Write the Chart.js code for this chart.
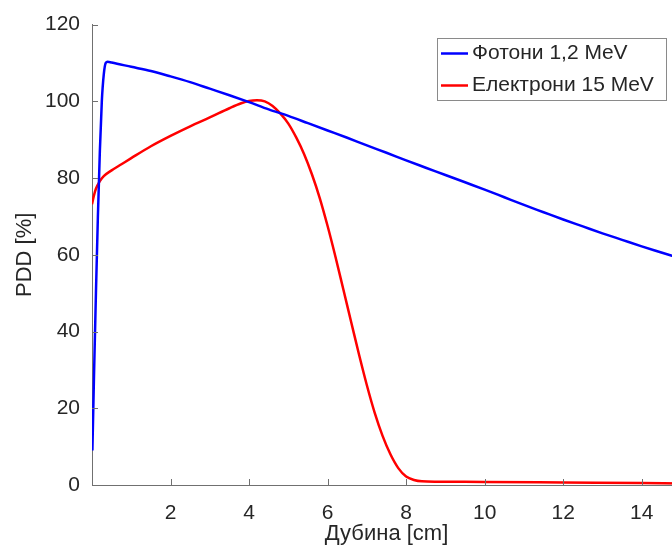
<!DOCTYPE html>
<html><head><meta charset="utf-8">
<script src="https://cdn.jsdelivr.net/npm/chart.js@4/dist/chart.umd.min.js"></script>
<style>
html,body{margin:0;padding:0;background:#fff;overflow:hidden;width:672px;height:547px}
#wrap{width:672px;height:547px;overflow:hidden;position:relative}
canvas{display:block}
</style></head>
<body><div id="wrap"><canvas id="c" width="700" height="547" style="width:700px;height:547px"></canvas></div>
<script>
const seriesLabels = ['Фотони 1,2 MeV', 'Електрони 15 MeV'];
const seriesColors = ['#0000ff', '#ff0000'];
const photonDepth = [0.01,0.05,0.1,0.15,0.2,0.25,0.3,0.35,0.4,0.5,1,1.5,2,2.5,3,3.5,4,4.5,5,5.5,6,6.5,7,7.5,8,8.5,9,9.5,10,10.5,11,11.5,12,12.5,13,13.5,14,14.5,15];
const photonDose  = [9,28,50,70,87,100,107,110,110.3,110.1,109,107.9,106.5,105,103.3,101.6,99.8,97.9,96.2,94.3,92.4,90.5,88.5,86.6,84.6,82.7,80.8,78.9,77,75,73,71.1,69.2,67.4,65.6,63.9,62.2,60.6,59];
const electronDepth = [0,0.05,0.1,0.2,0.3,0.5,0.75,1,1.5,2,2.5,3,3.5,3.8,4,4.2,4.4,4.6,4.8,5,5.2,5.4,5.6,5.8,6,6.2,6.4,6.6,6.8,7,7.2,7.4,7.6,7.8,8,8.2,8.4,8.8,10,12,14,15];
const electronDose  = [73.2,75.5,77.2,79.2,80.5,82,83.6,85.2,88.3,91,93.5,95.8,98.2,99.5,100.1,100.3,100,98.8,96.8,94.2,90.6,86.3,81,74.8,67.5,59.5,51,42.5,34,26,18.8,12.8,8,4.4,2.2,1.3,0.95,0.87,0.8,0.65,0.5,0.42];
const xTicks = [2,4,6,8,10,12,14];
const yTicks = [0,20,40,60,80,100,120];
const xTitle = 'Дубина [cm]';
const yTitle = 'PDD [%]';

const FONT = '"Liberation Sans", Arial, Helvetica, sans-serif';
const TEXT = '#262626';
const AXIS = '#707070';

function pts(xs, ys){ return xs.map((x,i)=>({x:x, y:ys[i]})); }

const inwardTicks = {
  id: 'inwardTicks',
  afterDatasetsDraw(chart){
    const {ctx, chartArea:a, scales:{x, y}} = chart;
    ctx.save();
    ctx.strokeStyle = AXIS; ctx.lineWidth = 1;
    ctx.beginPath();
    x.ticks.forEach(t=>{ const px = Math.round(x.getPixelForValue(t.value))+0.5; ctx.moveTo(px, a.bottom); ctx.lineTo(px, a.bottom-6); });
    y.ticks.forEach(t=>{ const py = Math.round(y.getPixelForValue(t.value))+0.5; ctx.moveTo(a.left, py); ctx.lineTo(a.left+6, py); });
    ctx.stroke();
    ctx.restore();
  }
};

const boxLegend = {
  id: 'boxLegend',
  afterDraw(chart){
    const ctx = chart.ctx;
    const left = 437.5, top = 38.5, w = 229, h = 62;
    ctx.save();
    ctx.fillStyle = '#fff'; ctx.fillRect(left, top, w, h);
    ctx.strokeStyle = '#8a8a8a'; ctx.lineWidth = 1; ctx.strokeRect(left, top, w, h);
    ctx.font = '21px ' + FONT; ctx.textBaseline = 'middle'; ctx.textAlign = 'left';
    chart.data.datasets.forEach((ds, i)=>{
      const cy = top + 15 + i*32;
      ctx.strokeStyle = ds.borderColor; ctx.lineWidth = 2.5;
      ctx.beginPath(); ctx.moveTo(441, cy); ctx.lineTo(468, cy); ctx.stroke();
      ctx.fillStyle = TEXT; ctx.fillText(ds.label, 472, cy);
    });
    ctx.restore();
  }
};

new Chart(document.getElementById('c'), {
  type: 'line',
  data: {
    datasets: [
      {label: seriesLabels[0], data: pts(photonDepth, photonDose), borderColor: seriesColors[0], backgroundColor: seriesColors[0], borderWidth: 2.5, pointRadius: 0, cubicInterpolationMode: 'monotone', fill: false},
      {label: seriesLabels[1], data: pts(electronDepth, electronDose), borderColor: seriesColors[1], backgroundColor: seriesColors[1], borderWidth: 2.5, pointRadius: 0, cubicInterpolationMode: 'monotone', fill: false}
    ]
  },
  options: {
    responsive: false, animation: false, devicePixelRatio: 1,
    layout: {padding: {top: 23, right: 19, left: 0, bottom: 0}},
    plugins: {legend: {display: false}, tooltip: {enabled: false}},
    scales: {
      x: {
        type: 'linear', min: 0, max: 15,
        grid: {display: false, drawTicks: false},
        border: {display: true, color: AXIS, width: 1},
        afterBuildTicks: s => { s.ticks = xTicks.map(v=>({value: v})); },
        afterFit: s => { s.height = 62; },
        ticks: {font: {family: FONT, size: 21}, color: TEXT, padding: 16, maxRotation: 0, autoSkip: false},
        title: {display: true, text: xTitle, font: {family: FONT, size: 22}, color: TEXT, padding: {top: 0, bottom: 0}}
      },
      y: {
        type: 'linear', min: 0, max: 120,
        grid: {display: false, drawTicks: false},
        border: {display: true, color: AXIS, width: 1},
        afterBuildTicks: s => { s.ticks = yTicks.map(v=>({value: v})); },
        afterFit: s => { s.width = 92; },
        ticks: {font: {family: FONT, size: 21}, color: TEXT, padding: 12, autoSkip: false},
        title: {display: true, text: yTitle, font: {family: FONT, size: 22}, color: TEXT, padding: {top: 12, bottom: 0}}
      }
    }
  },
  plugins: [inwardTicks, boxLegend]
});
</script>
</body></html>
